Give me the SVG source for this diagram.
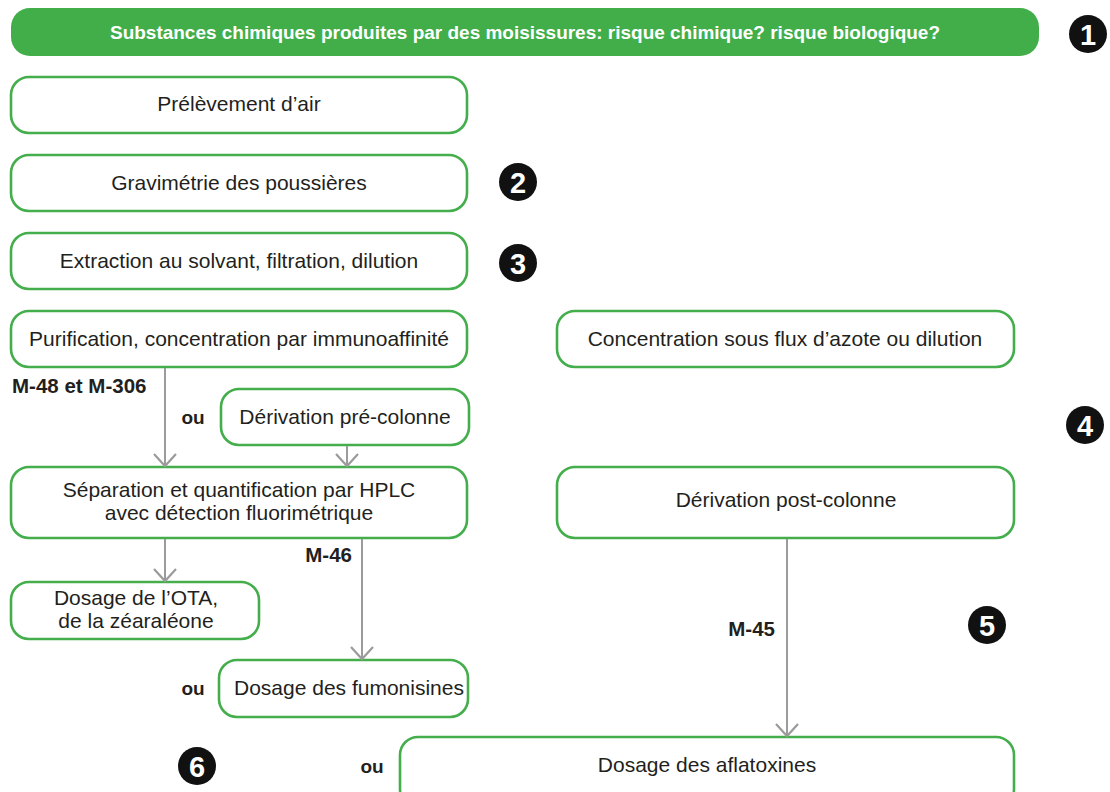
<svg xmlns="http://www.w3.org/2000/svg" width="1110" height="792" viewBox="0 0 1110 792">
<style>
.box{fill:#fff;stroke:#43AE4B;stroke-width:2.6}
.t{font-family:"Liberation Sans",Arial,sans-serif;font-size:21px;fill:#231F20;text-anchor:middle}
.lb{font-family:"Liberation Sans",Arial,sans-serif;font-weight:bold;fill:#231F20}
.con{stroke:#9B9B9B;stroke-width:2;fill:none}
.badge circle{fill:#111}
.badge text{font-family:"Liberation Sans",Arial,sans-serif;font-weight:bold;font-size:29px;fill:#fff;text-anchor:middle}
</style>
<defs>
<marker id="ah" markerUnits="userSpaceOnUse" markerWidth="30" markerHeight="30" viewBox="-15 -15 30 30" refX="0" refY="0" orient="auto">
<path d="M-12,-11 L0,0 L-12,11" fill="none" stroke="#9B9B9B" stroke-width="2.2"/>
</marker>
</defs>
<g id="header">
<rect x="11" y="8" width="1028" height="48" rx="19" fill="#41AE4A"/>
<text x="525" y="39" font-family="Liberation Sans,Arial,sans-serif" font-weight="bold" font-size="19" fill="#fff" text-anchor="middle" textLength="830" lengthAdjust="spacingAndGlyphs">Substances chimiques produites par des moisissures: risque chimique? risque biologique?</text>
</g>
<g id="n-prelevement"><rect class="box" x="11" y="77" width="456" height="56" rx="18"/><text class="t" x="239" y="111">Prélèvement d’air</text></g>
<g id="n-gravimetrie"><rect class="box" x="11" y="155" width="456" height="56" rx="18"/><text class="t" x="239" y="190">Gravimétrie des poussières</text></g>
<g id="n-extraction"><rect class="box" x="11" y="233" width="456" height="56" rx="18"/><text class="t" x="239" y="268">Extraction au solvant, filtration, dilution</text></g>
<g id="n-purification"><rect class="box" x="11" y="311" width="456" height="56" rx="18"/><text class="t" x="239" y="346">Purification, concentration par immunoaffinité</text></g>
<g id="n-concentration"><rect class="box" x="557" y="311" width="457" height="56" rx="18"/><text class="t" x="785" y="346">Concentration sous flux d’azote ou dilution</text></g>
<g id="n-derivation-pre"><rect class="box" x="221" y="389" width="248" height="56" rx="18"/><text class="t" x="345" y="424">Dérivation pré-colonne</text></g>
<g id="n-separation"><rect class="box" x="11" y="467" width="456" height="71" rx="18"/><text class="t" x="239" y="497">Séparation et quantification par HPLC</text><text class="t" x="239" y="520">avec détection fluorimétrique</text></g>
<g id="n-derivation-post"><rect class="box" x="557" y="467" width="457" height="71" rx="18"/><text class="t" x="786" y="507">Dérivation post-colonne</text></g>
<g id="n-ota"><rect class="box" x="11" y="582" width="248" height="57" rx="18"/><text class="t" x="136" y="605">Dosage de l’OTA,</text><text class="t" x="136" y="628">de la zéaraléone</text></g>
<g id="n-fumonisines"><rect class="box" x="219" y="660" width="249" height="57" rx="18"/><text class="t" x="349" y="695">Dosage des fumonisines</text></g>
<g id="n-aflatoxines"><rect class="box" x="400" y="737" width="614" height="70" rx="18"/><text class="t" x="707" y="772">Dosage des aflatoxines</text></g>
<g id="connectors">
<line class="con" x1="165" y1="368" x2="165" y2="466" marker-end="url(#ah)"/>
<line class="con" x1="347" y1="446" x2="347" y2="466" marker-end="url(#ah)"/>
<line class="con" x1="165" y1="539" x2="165" y2="581" marker-end="url(#ah)"/>
<line class="con" x1="362" y1="539" x2="362" y2="659" marker-end="url(#ah)"/>
<line class="con" x1="787" y1="539" x2="787" y2="736" marker-end="url(#ah)"/>
</g>
<g id="labels">
<text class="lb" x="12" y="393" font-size="20.5">M-48 et M-306</text>
<text class="lb" x="193" y="424" font-size="19" text-anchor="middle">ou</text>
<text class="lb" x="352" y="562" font-size="20.5" text-anchor="end">M-46</text>
<text class="lb" x="193" y="695" font-size="19" text-anchor="middle">ou</text>
<text class="lb" x="775" y="636" font-size="20.5" text-anchor="end">M-45</text>
<text class="lb" x="372" y="773" font-size="19" text-anchor="middle">ou</text>
</g>
<g id="badge1" class="badge"><circle cx="1088" cy="34" r="19"/><text x="1088" y="44.5">1</text></g>
<g id="badge2" class="badge"><circle cx="518" cy="182" r="19"/><text x="518" y="192.5">2</text></g>
<g id="badge3" class="badge"><circle cx="518" cy="263" r="19"/><text x="518" y="273.5">3</text></g>
<g id="badge4" class="badge"><circle cx="1085" cy="425" r="19"/><text x="1085" y="435.5">4</text></g>
<g id="badge5" class="badge"><circle cx="987" cy="625" r="19"/><text x="987" y="635.5">5</text></g>
<g id="badge6" class="badge"><circle cx="197" cy="766" r="19"/><text x="197" y="776.5">6</text></g>
</svg>
